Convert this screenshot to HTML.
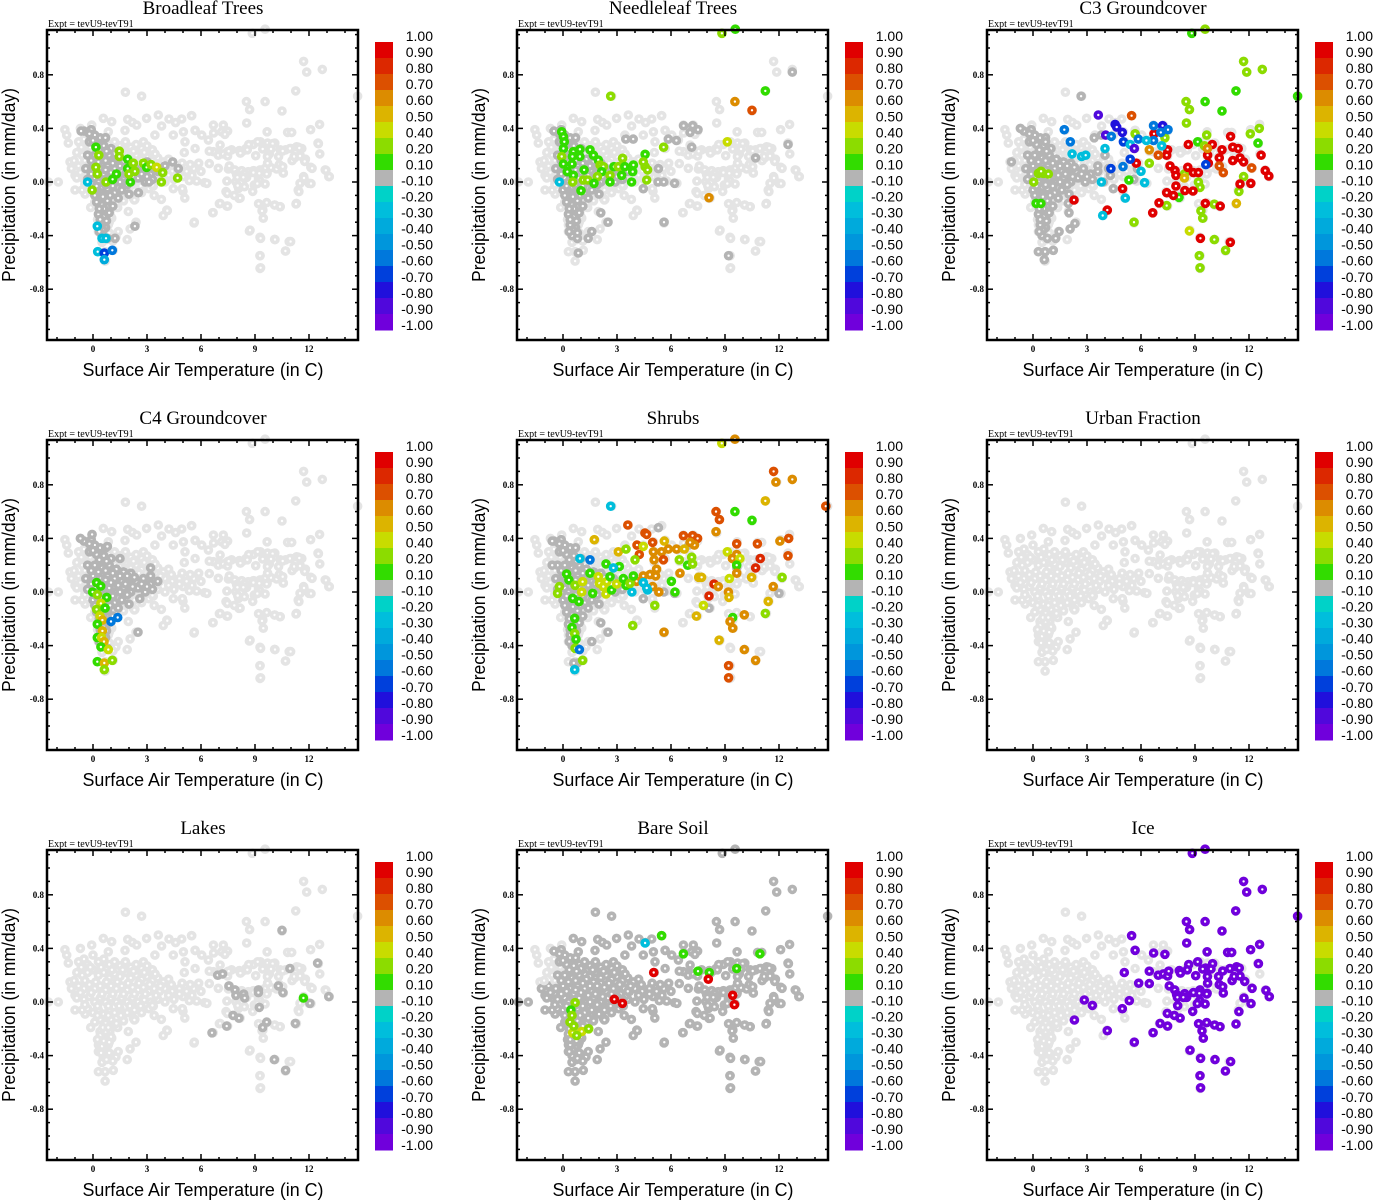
<!DOCTYPE html>
<html><head><meta charset="utf-8"><style>
html,body{margin:0;padding:0;background:#fff;}
svg{display:block;}
.tt{font-family:"Liberation Serif",serif;font-size:19px;}
.ex{font-family:"Liberation Serif",serif;font-size:10px;}
.tk{font-family:"Liberation Serif",serif;font-size:9px;font-weight:bold;}
.al{font-family:"Liberation Sans",sans-serif;font-size:18px;}
.cl{font-family:"Liberation Sans",sans-serif;font-size:14px;}
</style></head><body>
<svg id="fig" xmlns="http://www.w3.org/2000/svg" width="1373" height="1200" viewBox="0 0 1373 1200"></svg>
<script>
// ---------- data ----------
const xTicks = [0,3,6,9,12];
const yTicks = [-0.8,-0.4,0.0,0.4,0.8];
const yTickLabels = ["-0.8","-0.4","0.0","0.4","0.8"];
const cbLabels = ["1.00","0.90","0.80","0.70","0.60","0.50","0.40","0.20","0.10","-0.10","-0.20","-0.30","-0.40","-0.50","-0.60","-0.70","-0.80","-0.90","-1.00"];
const cbBounds = [1.0,0.9,0.8,0.7,0.6,0.5,0.4,0.2,0.1,-0.1,-0.2,-0.3,-0.4,-0.5,-0.6,-0.7,-0.8,-0.9,-1.0];
const cbColors = ["#e00000","#dc2800","#dc5000","#dc8c00","#dcb400","#c8dc00","#8cdc00","#32dc00","#b4b4b4","#00d2c8","#00bedc","#00aadc","#0096dc","#0078dc","#0040dc","#2010dc","#5008dc","#7000dc"];
const titles = ["Broadleaf Trees","Needleleaf Trees","C3 Groundcover","C4 Groundcover","Shrubs","Urban Fraction","Lakes","Bare Soil","Ice"];

const lowCloud = [[-1.56,0.39],[-1.46,0.35],[-1.37,0.29],[-0.7,0.4],[-1.28,0.15],[-1.0,0.05],[-1.0,-0.06],[-1.93,0.0],[-2.48,0.0],[-0.44,-0.09],[-0.13,-0.19],[0.3,-0.32],
[0.3,-0.52],[0.67,-0.52],[0.67,-0.59],[1.13,-0.51],[1.9,-0.43],[1.28,-0.41],[1.4,-0.37],[2.06,-0.35],[2.39,-0.3],[1.96,-0.22],[1.37,-0.19],[2.24,-0.12],[2.33,-0.13],[3.8,-0.13],[3.9,-0.25],[4.1,-0.21],[3.4,-0.1],[4.46,-0.05],[5.1,-0.12],[5.0,-0.07],[6.2,-0.005],
[0.39,-0.22],[0.67,-0.27],[0.48,-0.32],[0.76,-0.37],[0.57,-0.42],[0.85,-0.32],[1.04,-0.27],[0.94,-0.22],[0.3,-0.37],[0.67,-0.15],[1.04,-0.15],[0.3,-0.12],
[0.57,0.475],[1.04,0.45],[1.93,0.467],[2.19,0.445],[2.43,0.425],[2.98,0.475],[3.63,0.5],[4.22,0.47],[4.59,0.443],[4.93,0.47],[5.48,0.495],[3.81,0.418],[4.46,0.35],[5.02,0.375],[5.67,0.385],[6.04,0.35],[6.69,0.425],[7.24,0.425],[7.15,0.375],[7.48,0.38],[6.41,0.313],[6.69,0.226],[7.06,0.276],[7.48,0.226],[5.11,0.3],[5.67,0.25],[3.44,0.35],[2.8,0.3],[1.78,0.385],[0.85,0.375],[-0.07,0.425],[1.8,0.67],[2.7,0.64],
[-0.8,0.3],[-0.5,0.32],[-0.3,0.28],[0,0.35],[0.3,0.3],[0.6,0.32],[0.9,0.28],[1.2,0.3],[1.5,0.27],[1.8,0.3],[2.1,0.26],[2.4,0.28],[2.7,0.25],[3.0,0.27],[3.3,0.24],
[-0.9,0.22],[-0.6,0.2],[-0.3,0.22],[0,0.24],[0.3,0.2],[0.6,0.22],[0.9,0.18],[1.2,0.21],[1.5,0.19],[1.8,0.22],[2.1,0.18],[2.4,0.2],[2.7,0.17],[3.0,0.19],[3.3,0.16],[3.6,0.18],[3.9,0.15],[4.2,0.17],
[-1.2,0.1],[-0.8,0.12],[-0.5,0.1],[-0.2,0.13],[0.1,0.1],[0.4,0.12],[0.7,0.09],[1.0,0.12],[1.3,0.1],[1.6,0.12],[1.9,0.09],[2.2,0.11],[2.5,0.09],[2.8,0.11],[3.1,0.08],[3.4,0.1],[3.7,0.08],[4.0,0.1],[4.4,0.08],[4.8,0.1],[5.2,0.08],[5.6,0.1],[6.0,0.08],
[-0.9,0.03],[-0.5,0.02],[-0.2,0.04],[0.1,0.0],[0.4,0.03],[0.7,0.0],[1.0,0.03],[1.3,0.0],[1.6,0.03],[1.9,0.0],[2.2,0.03],[2.5,0.0],[2.8,0.03],[3.2,0.0],[3.6,0.02],[4.0,0.0],[4.5,0.02],[5.0,0.04],
[-0.6,-0.06],[-0.3,-0.05],[0,-0.08],[0.3,-0.06],[0.6,-0.09],[0.9,-0.06],[1.2,-0.08],[1.5,-0.05],[1.9,-0.08],[2.3,-0.06],[2.7,-0.08],[3.1,-0.05],
[0.1,-0.15],[0.4,-0.13],[0.7,-0.16],[1.0,-0.13],[1.3,-0.16],[1.7,-0.14],[0.4,-0.25],[0.7,-0.22],[1.0,-0.26],[0.5,-0.33],[0.8,-0.3],[0.6,-0.4],[0.9,-0.38],[1.1,-0.44],[0.5,-0.45],
[-0.65,0.26],[-0.15,0.26],[0.45,0.26],[1.05,0.24],[1.65,0.24],[2.25,0.23],[2.85,0.22],[3.45,0.21],[-1.05,0.16],[-0.45,0.16],[0.15,0.15],[0.75,0.15],[1.35,0.15],[1.95,0.14],[2.55,0.14],[3.15,0.13],[3.75,0.12],[4.35,0.13],[4.95,0.14],[5.4,0.13],
[-0.7,0.07],[-0.1,0.07],[0.5,0.06],[1.1,0.06],[1.7,0.06],[2.3,0.06],[2.9,0.06],[3.5,0.05],[4.2,0.05],[4.8,0.06],[5.5,0.05],[-0.45,-0.02],[0.25,-0.03],[0.85,-0.03],[1.45,-0.03],[2.05,-0.03],[2.65,-0.03],[3.35,-0.03],
[0.25,-0.1],[0.85,-0.1],[1.55,-0.1],[0.55,-0.19],[0.85,-0.19],[0.25,-0.28],[0.6,-0.29],[0.9,-0.3],[0.45,-0.38],[0.75,-0.43],
[6.96,0.102],[7.52,0.097],[7.89,0.084],[8.26,0.084],[8.63,0.077],[8.91,0.084],[9.3,0.077],[9.56,0.102],[9.89,0.107],[10.2,0.097],[10.57,0.067],[8.44,0.027],[9.19,0.02],[8.96,-0.022],[7.44,0.007],[7.94,0.002],[8.09,-0.047],[8.41,-0.035],[7.39,-0.072],[8.11,-0.122],[10.1,-0.172],[10.4,-0.184],[9.44,-0.209],[8.69,-0.366],[9.28,-0.413],[10.09,-0.428],[10.9,-0.445],[10.7,-0.515],[9.28,-0.55],[9.28,-0.645],[7.02,-0.162],[7.44,-0.18],[6.65,-0.229],[5.61,-0.306],[6.33,-0.01],[5.76,0.007],
[9.3,0.3],[9.7,0.29],[10.1,0.29],[8.9,0.28],[8.5,0.25],[8.3,0.23],[9.8,0.21],[10.4,0.24],[10.7,0.24],[11.0,0.25],[11.4,0.26],[11.6,0.25],[11.2,0.18],[11.5,0.2],[11.8,0.17],[7.7,0.24],[7.5,0.22],[7.0,0.22],[12.5,0.29],[12.6,0.21],[12.1,0.11],[12.9,0.09],[13.1,0.04],[11.7,0.04],[11.5,-0.01],[12.0,-0.01],[11.4,-0.06],[11.3,-0.16]];

const iceCloud = [[8.85,1.11],[9.56,1.14],[11.7,0.9],[11.87,0.82],[12.74,0.84],[14.7,0.64],[11.26,0.68],[8.52,0.6],[9.56,0.6],[8.7,0.54],[10.5,0.53],[5.48,0.495],[8.54,0.44],[5.67,0.386],[6.7,0.366],[7.33,0.356],[9.67,0.375],[12.09,0.39],[12.59,0.43],[10.81,0.37],[11.04,0.37],[9.15,0.3],[8.65,0.28],[9.98,0.286],[9.59,0.254],[9.43,0.246],[9.89,0.246],[10.54,0.231],[10.94,0.25],[11.31,0.263],[11.46,0.254],[12.52,0.286],[5.07,0.22],[6.46,0.23],[6.96,0.2],[7.24,0.21],[7.48,0.194],[7.54,0.23],[8.13,0.234],[8.19,0.216],[5.87,0.14],[6.46,0.137],[7.57,0.12],[7.87,0.09],[7.98,0.055],[8.43,0.062],[8.54,0.035],[8.91,0.07],[9.28,0.09],[9.24,0.065],[9.67,0.065],[9.7,0.14],[9.69,0.19],[10.31,0.19],[10.35,0.13],[10.54,0.114],[10.57,0.067],[11.06,0.16],[11.17,0.19],[11.5,0.194],[11.76,0.154],[12.94,0.087],[13.13,0.04],[12.17,0.102],[2.85,0.015],[3.3,-0.025],[5.35,0.01],[4.96,-0.05],[8.02,0.035],[8.35,0.035],[8.04,-0.027],[8.87,-0.07],[9.26,0.01],[9.13,-0.012],[9.56,-0.015],[9.65,0.06],[7.46,-0.085],[7.85,-0.1],[8.17,-0.12],[2.3,-0.134],[4.13,-0.214],[6.67,-0.229],[7.06,-0.16],[7.48,-0.18],[9.2,-0.162],[9.65,-0.154],[9.39,-0.216],[10.09,-0.172],[10.39,-0.184],[11.28,-0.164],[11.44,-0.072],[11.72,0.03],[12.11,-0.012],[5.63,-0.3],[9.46,-0.27],[8.72,-0.36],[9.31,-0.42],[10.11,-0.43],[10.98,-0.445],[10.69,-0.515],[9.28,-0.55],[9.31,-0.64],[8.57,0.24],[9.04,0.196]];

const coreCloud = [[-0.5,0.38],[-0.1,0.39],[0.1,0.35],[0.4,0.33],[0.7,0.33],[-0.2,0.3],[0.2,0.28],[0.6,0.27],[1.0,0.25],[-0.3,0.2],[0.1,0.2],[0.5,0.18],[0.9,0.2],[1.3,0.17],[1.7,0.15],[2.1,0.14],[-0.4,0.1],[0,0.12],[0.4,0.1],[0.8,0.12],[1.2,0.1],[1.6,0.08],[2.0,0.1],[2.4,0.08],[2.8,0.1],[3.2,0.06],[3.6,0.08],[-0.3,0.02],[0.1,0.03],[0.5,0.0],[0.9,0.03],[1.3,0.0],[1.7,0.03],[2.1,0.0],[2.5,0.03],[2.9,0.0],[3.3,0.02],[0,-0.06],[0.4,-0.08],[0.8,-0.05],[1.2,-0.08],[1.6,-0.06],[2.0,-0.09],[0.2,-0.15],[0.5,-0.17],[0.8,-0.14],[1.1,-0.18],[0.3,-0.24],[0.6,-0.26],[0.9,-0.23],[0.4,-0.32],[0.7,-0.34],[0.5,-0.4],[0.8,-0.42],[0.3,0.0],[0.2,0.08],[0.6,0.06],[0.3,-0.1],[0.6,-0.2],[0.4,-0.28],
[-0.2,0.36],[0.0,0.31],[0.35,0.24],[0.75,0.23],[-0.1,0.16],[0.3,0.15],[0.7,0.16],[1.1,0.14],[1.5,0.12],[1.9,0.12],[2.3,0.11],[2.7,0.06],[3.0,0.04],[-0.1,0.06],[0.7,0.09],[1.0,0.07],[1.4,0.05],[1.8,0.06],[2.2,0.04],[0.2,-0.03],[0.7,-0.02],[1.1,-0.03],[1.5,0.0],[1.9,-0.02],[0.1,-0.1],[0.55,-0.11],[0.95,-0.1],[1.4,-0.12],[0.35,-0.2],[0.75,-0.29],[0.55,-0.36],[0.35,-0.37]];

const broadleafVals = [[4.43,0.15,0],[4.74,0.1,0],[3.11,0.0,0],[2.52,-0.08,0],[2.33,-0.33,0],[1.22,-0.42,0],[3.5,0.1,0],[4.0,0.12,0],[3.0,0.15,0],[-0.66,0.38,0],[0.69,0.33,0],
[0.16,0.26,0.15],[0.32,0.2,0.3],[0.16,0.11,0.3],[0.24,0.06,0.3],[-0.05,-0.06,0.3],[0.72,0.0,0.3],[1.09,0.02,0.15],[1.3,0.06,0.15],[1.46,0.23,0.3],[1.46,0.19,0.3],[1.93,0.17,0.15],[1.93,0.1,0.15],[2.07,0.0,0.15],[2.0,0.06,0.3],[2.24,0.14,0.3],[2.33,0.08,0.3],[2.8,0.14,0.3],[2.98,0.11,0.15],[3.22,0.13,0.3],[3.54,0.11,0.45],[3.87,0.07,0.3],[3.8,0.0,0.3],[4.7,0.03,0.3],
[-0.3,0.0,-0.25],[0.24,-0.33,-0.25],[0.5,-0.42,-0.25],[0.72,-0.42,-0.25],[0.26,-0.52,-0.3],[0.63,-0.53,-0.65],[1.07,-0.51,-0.55],[0.63,-0.58,-0.35]];

const needleleafVals = [[6.7,0.42,0],[7.2,0.42,0],[7.5,0.39,0],[7.06,0.37,0],[6.3,0.31,0],[5.85,0.32,0],[7.15,0.26,0],[3.49,0.32,0],[3.9,0.32,0],[5.3,0.1,0],[5.28,0.0,0],[5.6,0.0,0],[6.2,-0.01,0],[4.46,-0.05,0],[5.61,-0.3,0],[2.1,-0.23,0],[2.5,-0.3,0],[1.6,-0.37,0],[1.4,-0.42,0],[0.8,-0.38,0],[0.85,-0.53,0],[12.5,0.28,0],[10.7,0.18,0],[12.74,0.82,0],[9.2,-0.55,0],
[8.83,1.11,0.3],[9.57,1.14,0.15],[2.65,0.64,0.3],[11.24,0.68,0.15],[9.55,0.6,0.65],[10.5,0.535,0.75],[9.13,0.3,0.45],[5.59,0.26,0.3],[8.11,-0.117,0.65],
[-0.07,0.375,0.15],[0.02,0.338,0.15],[0.07,0.3,0.15],[0.02,0.25,0.15],[-0.07,0.19,0.3],[0.02,0.134,0.15],[0.24,0.077,0.15],[0.57,0.226,0.15],[0.94,0.244,0.15],[0.94,0.19,0.15],[0.52,0.19,0.15],[0.5,0.134,0.15],[0.57,0.05,0.15],[0.54,0.0,0.3],[1.0,-0.065,0.15],[1.17,0.09,0.15],[1.13,0.015,0.3],[1.37,0.015,0.3],[1.5,0.24,0.15],[1.69,0.2,0.15],[1.96,0.164,0.15],[2.06,0.127,0.3],[2.24,0.114,0.3],[2.15,0.077,0.15],[1.91,0.04,0.3],[1.72,-0.01,0.15],[2.61,0.05,0.3],[2.61,0.0,0.15],[2.83,0.114,0.15],[3.07,0.114,0.3],[3.31,0.177,0.3],[3.26,0.05,0.15],[3.44,0.114,0.15],[3.87,0.077,0.15],[3.91,0.127,0.15],[3.81,0.0,0.15],[4.56,0.207,0.15],[4.56,0.114,0.3],[4.7,0.09,0.3],[4.65,0.015,0.3],[4.46,0.15,0.3],[-0.2,0.0,-0.25]];

const c3Vals = [[2.67,0.64,0],[-1.2,0.15,0],[-0.7,0.4,0],[0.7,0.3,0],[1.96,-0.16,0],[2.0,-0.23,0],[2.33,-0.31,0],[2.06,-0.35,0],[1.45,-0.37,0],[1.26,-0.42,0],[0.3,-0.52,0],[0.67,-0.52,0],[1.13,-0.51,0],[0.63,-0.58,0],[4.46,-0.05,0],[3.4,0.33,0],[3.8,0.35,0],[4.0,0.2,0],[3.6,0.12,0],[4.2,0.1,0],[5.8,0.1,0],[5.6,0.02,0],[4.3,0.05,0],[3.9,0.0,0],
[0.3,0.065,0.3],[0.57,0.065,0.3],[0.85,0.06,0.3],[0.45,0.08,0.3],[0.04,0.0,0.3],[0.17,-0.16,0.15],[0.44,-0.16,0.15],
[8.82,1.11,0.15],[9.56,1.14,0.3],[11.7,0.9,0.3],[11.87,0.82,0.3],[12.74,0.84,0.3],[11.28,0.68,0.15],[14.7,0.64,0.15],[8.5,0.6,0.3],[9.56,0.6,0.15],[8.69,0.54,0.3],[10.5,0.53,0.15],[8.52,0.44,0.3],[12.57,0.4,0.3],[12.07,0.36,0.3],[9.65,0.35,0.3],[5.67,0.36,0.3],[7.33,0.33,0.3],[9.15,0.3,0.15],[12.5,0.29,0.15],[6.46,0.14,0.3],[5.33,0.015,0.15],[8.11,-0.114,0.15],[9.19,0.0,0.3],[9.28,-0.04,0.3],[8.41,0.06,0.3],[11.44,-0.07,0.3],[11.7,0.04,0.3],[7.43,-0.176,0.3],[10.07,-0.166,0.3],[9.33,-0.216,0.3],[9.43,-0.27,0.3],[5.61,-0.3,0.3],[8.69,-0.365,0.45],[10.07,-0.43,0.3],[10.7,-0.51,0.3],[9.24,-0.55,0.3],[9.28,-0.64,0.3],[9.52,0.27,0.3],
[5.48,0.495,0.75],[6.72,0.36,0.95],[8.63,0.28,0.95],[7.48,0.24,0.95],[7.43,0.2,0.95],[5.74,0.14,0.95],[7.61,0.12,0.95],[7.89,0.085,0.95],[7.94,0.05,0.95],[8.91,0.07,0.95],[9.19,0.07,0.95],[9.7,0.2,0.95],[9.96,0.28,0.95],[10.5,0.24,0.95],[10.35,0.18,0.95],[9.74,0.14,0.95],[10.98,0.34,0.95],[11.1,0.26,0.95],[11.4,0.25,0.95],[11.1,0.16,0.95],[11.5,0.18,0.95],[11.7,0.15,0.95],[12.67,0.2,0.95],[12.9,0.085,0.95],[13.1,0.045,0.95],[12.1,-0.01,0.95],[11.5,-0.015,0.95],[7.94,-0.03,0.95],[8.44,-0.064,0.95],[8.89,-0.067,0.95],[7.43,-0.08,0.95],[7.8,-0.1,0.95],[4.98,-0.05,0.95],[7.0,-0.155,0.95],[6.65,-0.23,0.95],[4.13,-0.21,0.95],[2.28,-0.134,0.95],[9.57,-0.16,0.95],[10.4,-0.18,0.95],[9.3,-0.42,0.95],[10.96,-0.45,0.95],[8.6,0.11,0.95],
[6.46,0.24,0.65],[6.96,0.2,0.75],[9.69,0.25,0.65],[10.35,0.12,0.75],[10.57,0.07,0.75],[12.15,0.105,0.75],[11.3,-0.16,0.55],[8.41,0.03,0.55],
[3.63,0.5,-0.85],[1.74,0.39,-0.6],[4.56,0.43,-0.75],[4.65,0.41,-0.75],[4.96,0.37,-0.75],[4.04,0.35,-0.85],[4.35,0.34,-0.6],[2.07,0.3,-0.6],[5.02,0.3,-0.65],[5.85,0.32,-0.6],[6.7,0.42,-0.6],[7.2,0.42,-0.75],[7.5,0.39,-0.6],[7.1,0.37,-0.6],[6.7,0.31,-0.6],[5.4,0.28,-0.3],[6.3,0.31,-0.3],[7.15,0.27,-0.3],[5.63,0.25,-0.85],[2.17,0.21,-0.3],[2.7,0.19,-0.3],[2.93,0.2,-0.3],[4.0,0.25,-0.3],[4.33,0.1,-0.65],[5.4,0.17,-0.65],[6.0,0.08,-0.3],[3.8,0.0,-0.3],[6.2,-0.005,-0.3],[5.13,-0.12,-0.3],[3.87,-0.25,-0.3],[9.6,0.13,-0.65],[5.0,0.115,-0.55]];

const c4Vals = [[-0.7,0.4,0],[-0.05,0.43,0],[0.8,0.34,0],[1.5,0.25,0],[3.2,0.18,0],[3.2,0.12,0],[2.6,-0.05,0],[2.5,-0.3,0],
[0.2,0.07,0.15],[0.43,0.044,0.15],[-0.02,0.0,0.15],[0.24,-0.02,0.3],[0.76,-0.04,0.15],[0.44,-0.085,0.45],[0.2,-0.13,0.3],[0.67,-0.12,0.15],[0.39,-0.18,0.45],[0.52,-0.21,0.55],[1.0,-0.22,-0.55],[1.37,-0.19,-0.55],[0.24,-0.24,0.15],[0.52,-0.29,0.55],[0.24,-0.34,0.15],[0.48,-0.34,0.45],[0.61,-0.37,0.55],[0.44,-0.41,0.15],[0.85,-0.43,0.45],[0.24,-0.52,0.15],[0.63,-0.53,0.55],[1.07,-0.51,0.3],[0.63,-0.58,0.3]];

const shrubsVals = [[-0.6,0.38,0],[-0.6,0.2,0],[5.3,0.48,0],[7.0,0.35,0],[5.3,0.0,0],[5.6,0.0,0],[6.2,-0.01,0],[4.46,-0.05,0],[8.11,-0.12,0],[2.1,-0.23,0],[2.5,-0.3,0],[1.6,-0.37,0],[0.8,-0.53,0],[0.6,-0.53,0],[12.0,-0.01,0],[9.65,0.18,0],[10.94,0.25,0],
[8.82,1.11,0.45],[9.55,1.14,0.65],[11.7,0.9,0.75],[11.83,0.82,0.65],[12.74,0.84,0.65],[11.24,0.68,0.55],[14.6,0.64,0.75],[2.65,0.64,-0.3],[8.5,0.6,0.75],[9.55,0.6,0.15],[8.69,0.54,0.75],[10.5,0.535,0.15],[8.5,0.45,0.65],[3.6,0.5,0.75],[4.55,0.44,0.75],[4.65,0.43,0.75],[6.69,0.42,0.75],[7.2,0.42,0.75],[7.48,0.4,0.75],[7.3,0.35,0.65],[7.06,0.37,0.65],[4.98,0.37,0.75],[5.63,0.38,0.55],[4.11,0.35,0.75],[4.24,0.28,0.75],[4.46,0.34,0.45],[5.02,0.3,0.65],[5.48,0.3,0.65],[5.85,0.32,0.65],[6.31,0.32,0.65],[6.74,0.32,0.55],[5.58,0.24,0.75],[5.06,0.24,0.65],[1.74,0.39,0.55],[3.07,0.3,0.55],[3.5,0.32,0.3],[4.0,0.24,0.3],[6.46,0.24,0.3],[6.93,0.2,0.15],[7.15,0.26,0.3],[7.2,0.21,0.3],[9.13,0.3,0.45],[9.65,0.28,0.65],[9.41,0.25,0.65],[9.83,0.25,0.45],[9.65,0.2,0.15],[9.65,0.14,0.65],[9.24,0.1,0.45],[8.39,0.06,0.8],[8.63,0.04,0.65],[8.11,-0.03,0.8],[9.19,0.0,0.65],[9.22,-0.04,0.55],[7.8,-0.1,0.45],[7.41,-0.18,0.55],[9.43,-0.19,0.15],[9.28,-0.22,0.6],[9.43,-0.27,0.65],[10.07,-0.17,0.65],[8.67,-0.36,0.5],[9.2,-0.55,0.75],[9.2,-0.64,0.75],[10.07,-0.43,0.65],[10.7,-0.51,0.65],[10.48,0.11,0.5],[10.7,0.18,0.8],[10.96,0.25,0.8],[10.8,0.36,0.75],[9.65,0.36,0.75],[12.05,0.38,0.65],[12.54,0.4,0.75],[12.5,0.27,0.75],[12.17,0.11,0.3],[11.68,0.04,0.65],[11.4,-0.07,0.55],[11.24,-0.16,0.3],[7.54,0.11,0.5],[7.7,0.11,0.5],[6.5,0.14,0.65],[6.02,0.08,0.15],[6.22,0.0,0.15],[5.33,0.0,0.65],[4.98,0.04,0.65],[5.1,-0.1,0.3],[3.87,-0.25,0.3],[5.61,-0.3,0.65],[5.2,0.17,0.65],[4.83,0.13,0.65],[5.15,0.12,0.65],[4.46,0.12,0.65],[4.09,0.08,0.65],[3.83,0.0,-0.25],[4.7,0.015,-0.25],
[0.2,0.134,0.15],[0.33,0.09,0.15],[-0.2,0.04,0.3],[-0.3,-0.01,0.3],[0.67,0.05,0.3],[1.09,0.077,0.45],[1.04,0.0,0.45],[1.65,-0.01,0.15],[1.5,0.14,0.15],[1.96,0.114,0.45],[2.02,0.065,0.45],[2.24,0.04,0.45],[2.43,0.077,0.45],[2.61,0.114,0.15],[2.39,-0.015,0.45],[2.7,0.015,0.15],[2.98,0.06,0.45],[3.35,0.1,0.15],[3.5,0.05,0.15],[3.72,0.065,0.3],[3.91,0.12,0.15],[3.13,0.19,0.15],[2.39,0.21,0.15],[0.54,-0.047,0.15],[0.89,-0.072,0.15],[0.65,-0.196,0.15],[0.5,-0.264,0.15],[0.65,-0.31,0.3],[0.72,-0.353,0.15],[0.67,-0.42,0.3],[1.09,-0.51,0.3],[0.65,-0.58,-0.25],[0.91,-0.43,-0.6],
[0.94,0.25,-0.25],[1.5,0.24,-0.55],[2.8,0.18,-0.25],[4.46,0.07,-0.25],[4.65,0.03,-0.25]];

const urbanVals = [];

const lakesVals = [[6.93,0.2,0],[7.2,0.21,0],[7.55,0.12,0],[7.89,0.09,0],[7.94,0.05,0],[8.37,0.06,0],[8.43,0.03,0],[9.19,0.09,0],[9.19,0.07,0],[9.24,-0.04,0],[10.5,0.535,0],[10.94,0.25,0],[10.3,0.12,0],[10.55,0.07,0],[12.48,0.29,0],[13.1,0.04,0],[12.05,-0.01,0],[11.24,-0.16,0],[9.65,-0.15,0],[9.43,-0.19,0],[8.11,-0.12,0],[7.78,-0.1,0],[7.43,-0.18,0],[6.61,-0.23,0],[10.07,-0.43,0],[10.7,-0.51,0],[11.69,0.03,0.15]];

const bareSoilVals = [[5.48,0.495,0.15],[4.56,0.44,-0.25],[6.69,0.36,0.15],[7.5,0.23,0.15],[8.13,0.22,0.15],[5.04,0.22,0.95],[8.07,0.17,0.95],[9.65,0.25,0.15],[10.94,0.36,0.15],[9.43,0.05,0.95],[9.52,-0.02,0.95],[2.85,0.02,0.95],[3.3,-0.01,0.95],[0.67,-0.005,0.3],[0.44,-0.06,0.15],[0.5,-0.1,0.3],[0.39,-0.15,0.3],[0.54,-0.23,0.45],[1.04,-0.22,0.45],[1.43,-0.2,0.3],[0.76,-0.25,0.3],[0.6,-0.18,0.3]];

const iceVals = iceCloud.map(p => [p[0], p[1], -1.0]);

const panelVals = [broadleafVals, needleleafVals, c3Vals, c4Vals, shrubsVals, urbanVals, lakesVals, bareSoilVals, iceVals];
const panelCore = [true,true,true,true,true,false,false,true,false];
const panelAllDark = [false,false,false,false,false,false,false,true,false];

// ---------- drawing ----------
const NS = "http://www.w3.org/2000/svg";
const fig = document.getElementById("fig");
function mk(tag, attrs, parent) {
  const e = document.createElementNS(NS, tag);
  for (const k in attrs) e.setAttribute(k, attrs[k]);
  parent.appendChild(e);
  return e;
}
function colorOf(v) {
  for (let i = 0; i < cbColors.length; i++) {
    if (v <= cbBounds[i] && v >= cbBounds[i + 1]) return cbColors[i];
  }
  return v > 0 ? cbColors[0] : cbColors[cbColors.length - 1];
}
const LIGHT = "#e4e4e4";

function drawPanel(idx) {
  const ox = (idx % 3) * 470, oy = Math.floor(idx / 3) * 410;
  const L = ox + 47, R = ox + 358, T = oy + 30, B = oy + 340;
  const xs = t => ox + 93 + t * 18;
  const ys = p => oy + 182 - p * 134;
  const g = mk("g", {}, fig);
  
  

  const title = mk("text", {x: ox + 203, y: oy + 14, "text-anchor": "middle", class: "tt"}, g);
  title.textContent = titles[idx];
  
  
  const ex = mk("text", {x: ox + 48, y: oy + 27, class: "ex"}, g);
  ex.textContent = "Expt = tevU9-tevT91";
  
  

  const pts = mk("g", {}, g);
  
  
  function dot(t, p, col) {
    const c = mk("circle", {cx: xs(t).toFixed(1), cy: ys(p).toFixed(1), r: 3.0, fill: "#fff", stroke: col, "stroke-width": 3.6}, pts);
    
    
  }
  const baseCol = panelAllDark[idx] ? "#b4b4b4" : LIGHT;
  lowCloud.forEach(p => dot(p[0], p[1], (panelAllDark[idx] && (p[0] > 0.3 || p[1] < 0.15)) ? "#b4b4b4" : LIGHT));
  iceCloud.forEach(p => dot(p[0], p[1], baseCol));
  if (panelCore[idx]) coreCloud.forEach(p => dot(p[0], p[1], "#b4b4b4"));
  const vals = panelVals[idx];
  vals.filter(v => Math.abs(v[2]) < 0.1).forEach(v => dot(v[0], v[1], colorOf(v[2])));
  vals.filter(v => Math.abs(v[2]) >= 0.1).forEach(v => dot(v[0], v[1], colorOf(v[2])));

  // frame
  const fr = mk("rect", {x: L, y: T, width: R - L, height: B - T, fill: "none", stroke: "#000", "stroke-width": 2.5}, g);
  
  
  const tk = mk("g", {stroke: "#000", "stroke-width": 1.5}, g);
  
  
  for (let t = -2; t <= 14; t++) {
    const major = xTicks.includes(t), len = major ? 6 : 3, x = xs(t);
    mk("line", {x1: x, y1: B, x2: x, y2: B - len}, tk);
    mk("line", {x1: x, y1: T, x2: x, y2: T + len}, tk);
  }
  for (let k = -11; k <= 11; k++) {
    const p = k / 10, major = k % 4 === 0, len = major ? 6 : 3, y = ys(p);
    mk("line", {x1: L, y1: y, x2: L + len, y2: y}, tk);
    mk("line", {x1: R, y1: y, x2: R - len, y2: y}, tk);
  }
  xTicks.forEach(t => {
    const e = mk("text", {x: xs(t), y: oy + 352, "text-anchor": "middle", class: "tk"}, g);
    e.textContent = String(t);
    
    
  });
  yTicks.forEach((p, i) => {
    const e = mk("text", {x: ox + 44, y: ys(p) + 3, "text-anchor": "end", class: "tk"}, g);
    e.textContent = yTickLabels[i];
    
    
  });
  const xl = mk("text", {x: ox + 203, y: oy + 376, "text-anchor": "middle", class: "al", textLength: 241, lengthAdjust: "spacingAndGlyphs"}, g);
  xl.textContent = "Surface Air Temperature (in C)";
  
  
  const yl = mk("text", {x: 0, y: 0, "text-anchor": "middle", class: "al", textLength: 194, lengthAdjust: "spacingAndGlyphs", transform: `translate(${ox + 15},${oy + 185}) rotate(-90)`}, g);
  yl.textContent = "Precipitation (in mm/day)";
  
  

  // colorbar
  const cb = mk("g", {}, g);
  
  
  cbColors.forEach((c, i) => {
    const r = mk("rect", {x: ox + 375, y: oy + 42 + i * 16, width: 18, height: 16.5, fill: c}, cb);
    
    
  });
  cbLabels.forEach((s, i) => {
    const e = mk("text", {x: ox + 433, y: oy + 41 + i * 16.05, "text-anchor": "end", class: "cl"}, cb);
    e.textContent = s;
    
    
  });
}
for (let i = 0; i < 9; i++) drawPanel(i);
</script>
</body></html>
